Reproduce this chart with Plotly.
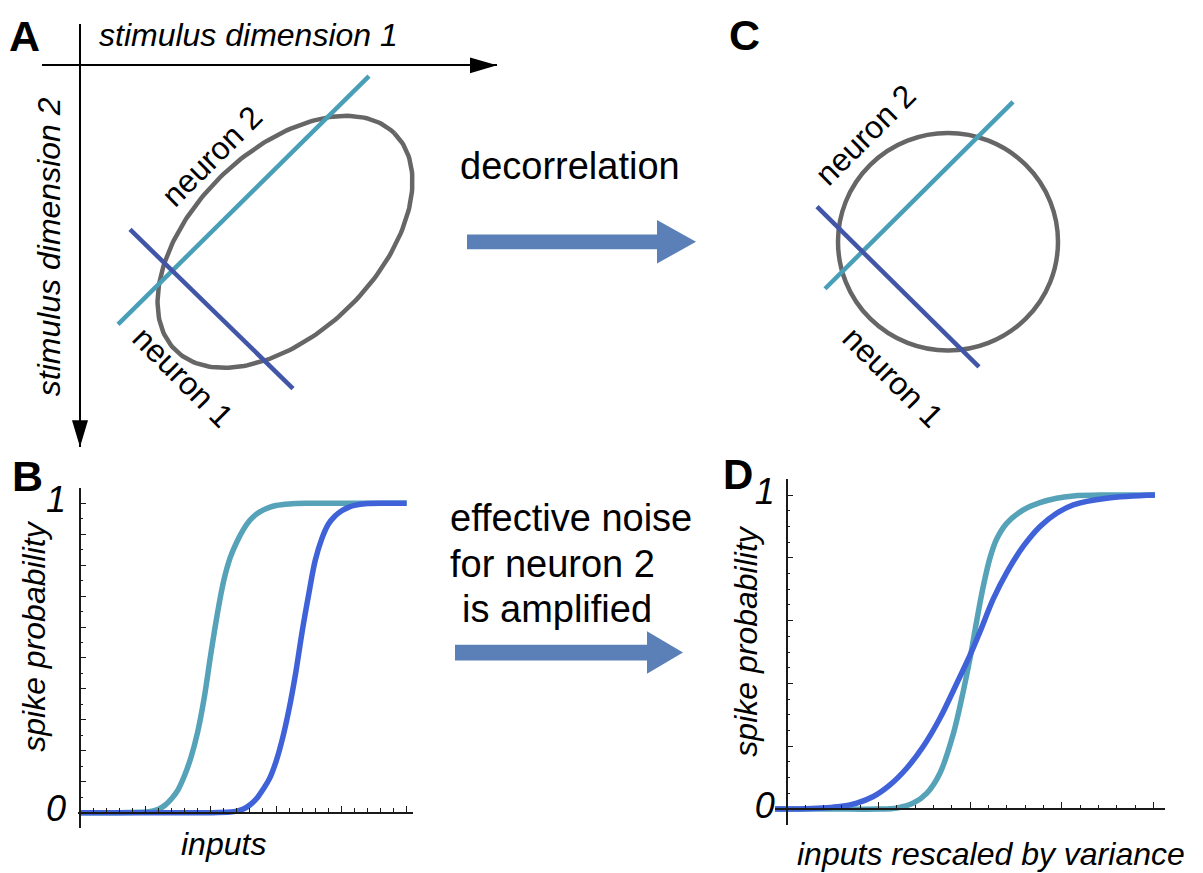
import numpy as np
import plotly.graph_objects as go

W, H = 1203, 873
FONT = "Liberation Sans, Arial, Helvetica, sans-serif"

# ---------------- data ----------------
# Panel A: correlated stimulus space (dimension 1 to the right, dimension 2 downward)
ellipse_A = {"cx": 2.05, "cy": 1.785, "a": 1.55, "b": 0.92, "angle_deg": 45}
neuron2_A_x = [0.38, 2.89]
neuron2_A_y = [2.62, 0.11]
neuron1_A_x = [0.50, 2.13]
neuron1_A_y = [1.66, 3.27]

# Panel C: decorrelated stimulus space
circle_C = {"cx": 0.0, "cy": 0.0, "r": 1.1}
neuron2_C_x = [-1.23, 0.65]
neuron2_C_y = [0.475, -1.415]
neuron1_C_x = [-1.31, 0.31]
neuron1_C_y = [-0.355, 1.265]

# Panel B: spike probability vs inputs
B_n2_x = [0, 0.5, 1.0, 1.1, 1.2, 1.3, 1.4, 1.5, 1.6, 1.7, 1.8, 1.9, 2.0, 2.1, 2.2, 2.3, 2.4, 2.5,
          2.6, 2.7, 2.8, 2.9, 3.0, 3.2, 3.5, 4.0, 4.5, 5.0]
B_n2_y = [0, 0, 0.002, 0.005, 0.011, 0.024, 0.045, 0.074, 0.12, 0.18, 0.26, 0.37, 0.51, 0.64, 0.75,
          0.825, 0.875, 0.915, 0.945, 0.965, 0.978, 0.987, 0.993, 0.998, 1.0, 1.0, 1.0, 1.0]
B_n1_x = [0, 1.0, 2.0, 2.3, 2.4, 2.5, 2.6, 2.7, 2.8, 2.9, 3.0, 3.1, 3.2, 3.3, 3.4, 3.5, 3.6, 3.7,
          3.8, 3.9, 4.0, 4.1, 4.2, 4.4, 4.7, 5.0]
B_n1_y = [0, 0, 0, 0.002, 0.005, 0.012, 0.025, 0.045, 0.075, 0.11, 0.165, 0.24, 0.335, 0.45, 0.585,
          0.705, 0.815, 0.885, 0.932, 0.958, 0.975, 0.986, 0.993, 0.999, 1.0, 1.0]

# Panel D: spike probability vs inputs rescaled by variance
D_n2_x = [-0.127, 0.5, 1.0, 1.2, 1.382, 1.527, 1.673, 1.818, 1.927, 2.0, 2.073, 2.145, 2.218, 2.291,
          2.4, 2.582, 2.764, 2.945, 3.127, 3.49, 4.018]
D_n2_y = [0, 0, 0, 0.003, 0.019, 0.05, 0.115, 0.24, 0.376, 0.48, 0.6, 0.71, 0.80, 0.86,
          0.91, 0.953, 0.976, 0.99, 0.997, 1.0, 1.0]
D_n1_x = [-0.127, 0.2, 0.582, 0.764, 0.945, 1.127, 1.309, 1.491, 1.673, 1.855, 2.0, 2.109, 2.255,
          2.4, 2.582, 2.764, 2.945, 3.127, 3.491, 4.018]
D_n1_y = [0, 0.001, 0.008, 0.019, 0.04, 0.077, 0.13, 0.2, 0.29, 0.4, 0.49, 0.565, 0.67,
          0.753, 0.837, 0.9, 0.942, 0.969, 0.99, 1.0]

y_ticktext_B = ["0", "", "", "", "", "", "", "", "", "", "1"]
y_ticktext_D = ["0", "", "", "", "", "1"]

# ---------------- styles ----------------
CYAN_LINE = "#4a9fb8"
BLUE_LINE = "#4256a8"
CYAN_CURVE = "#55a2b9"
BLUE_CURVE = "#3f62d8"
GREY = "#666666"
ARROW_FILL = "#5b80b8"


def PX(x):
    return x / W


def PY(y):
    return 1 - y / H


fig = go.Figure()

# ---- Panel A ----
th = np.deg2rad(ellipse_A["angle_deg"])
t = np.linspace(0, 2 * np.pi, 241)
ux, uy = np.cos(th), -np.sin(th)
vx, vy = np.sin(th), np.cos(th)
ex = ellipse_A["cx"] + ellipse_A["a"] * np.cos(t) * ux + ellipse_A["b"] * np.sin(t) * vx
ey = ellipse_A["cy"] + ellipse_A["a"] * np.cos(t) * uy + ellipse_A["b"] * np.sin(t) * vy
fig.add_trace(go.Scatter(x=ex, y=ey, mode="lines", line=dict(color=GREY, width=4.5),
                         xaxis="x", yaxis="y", hoverinfo="skip", showlegend=False))
fig.add_trace(go.Scatter(x=neuron2_A_x, y=neuron2_A_y, mode="lines", line=dict(color=CYAN_LINE, width=4.5),
                         xaxis="x", yaxis="y", showlegend=False))
fig.add_trace(go.Scatter(x=neuron1_A_x, y=neuron1_A_y, mode="lines", line=dict(color=BLUE_LINE, width=4.5),
                         xaxis="x", yaxis="y", showlegend=False))

# ---- Panel C ----
fig.add_trace(go.Scatter(x=neuron2_C_x, y=neuron2_C_y, mode="lines", line=dict(color=CYAN_LINE, width=4.5),
                         xaxis="x2", yaxis="y2", showlegend=False))
fig.add_trace(go.Scatter(x=neuron1_C_x, y=neuron1_C_y, mode="lines", line=dict(color=BLUE_LINE, width=4.5),
                         xaxis="x2", yaxis="y2", showlegend=False))

# ---- Panel B ----
curve = dict(width=5.5, shape="spline", smoothing=1.0)
fig.add_trace(go.Scatter(x=B_n2_x, y=B_n2_y, mode="lines", line=dict(color=CYAN_CURVE, **curve),
                         xaxis="x3", yaxis="y3", showlegend=False))
fig.add_trace(go.Scatter(x=B_n1_x, y=B_n1_y, mode="lines", line=dict(color=BLUE_CURVE, **curve),
                         xaxis="x3", yaxis="y3", showlegend=False))

# ---- Panel D ----
fig.add_trace(go.Scatter(x=D_n2_x, y=D_n2_y, mode="lines", line=dict(color=CYAN_CURVE, **curve),
                         xaxis="x4", yaxis="y4", showlegend=False))
fig.add_trace(go.Scatter(x=D_n1_x, y=D_n1_y, mode="lines", line=dict(color=BLUE_CURVE, **curve),
                         xaxis="x4", yaxis="y4", showlegend=False))

hidden = dict(visible=False, showgrid=False, zeroline=False)
tickfont = dict(family=FONT, size=36, color="black", style="italic")
AX = "#1a1a1a"

layout_axes = dict(
    # panel A stimulus axes
    xaxis=dict(domain=[PX(42), PX(497)], range=[-0.38, 4.17], anchor="free", position=PY(57),
               showline=True, linecolor="black", linewidth=2, ticks="", showticklabels=False,
               showgrid=False, zeroline=False, fixedrange=True),
    yaxis=dict(domain=[PY(443), PY(15)], range=[3.86, -0.42], anchor="free", position=PX(80),
               showline=True, linecolor="black", linewidth=2, ticks="", showticklabels=False,
               showgrid=False, zeroline=False, fixedrange=True),
    # panel C (no visible axes)
    xaxis2=dict(domain=[PX(720), PX(1100)], range=[-2.28, 1.52], anchor="y2", **hidden),
    yaxis2=dict(domain=[PY(420), PY(60)], range=[1.845, -1.755], anchor="x2", **hidden),
    # panel B
    xaxis3=dict(domain=[PX(78), PX(413)], range=[-0.031, 5.097], anchor="free", position=PY(813),
                showline=True, linecolor=AX, linewidth=1.6, ticks="inside", tickmode="linear",
                tick0=0, dtick=1, ticklen=6, tickwidth=1.3, tickcolor=AX,
                minor=dict(ticks="inside", tickmode="linear", tick0=0, dtick=0.2, ticklen=3.5, tickwidth=1.1, tickcolor=AX),
                showticklabels=False, showgrid=False, zeroline=False, layer="above traces"),
    yaxis3=dict(domain=[PY(828.65), PY(484.35)], range=[-0.05, 1.05], anchor="free", position=PX(80),
                showline=True, linecolor=AX, linewidth=1.6, ticks="inside", tickmode="array",
                tickvals=[round(0.1 * i, 1) for i in range(11)], ticktext=y_ticktext_B,
                ticklen=5, tickwidth=1.3, tickcolor=AX,
                minor=dict(ticks="inside", tickmode="linear", tick0=0, dtick=0.05, ticklen=2.5, tickwidth=1, tickcolor=AX),
                tickfont=tickfont, ticklabelstandoff=6, ticklabelshift=-4,
                showgrid=False, zeroline=False, layer="above traces"),
    # panel D
    xaxis4=dict(domain=[PX(775), PX(1165)], range=[-0.1277, 4.1273], anchor="free", position=PY(809.3),
                showline=True, linecolor=AX, linewidth=1.6, ticks="inside", tickmode="linear",
                tick0=0, dtick=1, ticklen=6, tickwidth=1.3, tickcolor=AX,
                minor=dict(ticks="inside", tickmode="linear", tick0=0, dtick=0.2, ticklen=3.5, tickwidth=1.1, tickcolor=AX),
                showticklabels=False, showgrid=False, zeroline=False, layer="above traces"),
    yaxis4=dict(domain=[PY(825.2), PY(475.8)], range=[-0.05, 1.05], anchor="free", position=PX(786.7),
                showline=True, linecolor=AX, linewidth=1.6, ticks="inside", tickmode="array",
                tickvals=[round(0.2 * i, 1) for i in range(6)], ticktext=y_ticktext_D,
                ticklen=5, tickwidth=1.3, tickcolor=AX,
                minor=dict(ticks="inside", tickmode="linear", tick0=0, dtick=0.05, ticklen=2.5, tickwidth=1, tickcolor=AX),
                tickfont=tickfont, ticklabelstandoff=4, ticklabelshift=-4,
                showgrid=False, zeroline=False, layer="above traces"),
)

shapes = []
# arrowheads of the stimulus axes in panel A (data coordinates of panel A)
xr = layout_axes["xaxis"]["range"]
yr = layout_axes["yaxis"]["range"]
hl, hw = 0.27, 0.08
shapes.append(dict(type="path", xref="x", yref="y", fillcolor="black", line=dict(width=0),
                   path=f"M {xr[1]-hl},{-hw} L {xr[1]},0 L {xr[1]-hl},{hw} Z"))
shapes.append(dict(type="path", xref="x", yref="y", fillcolor="black", line=dict(width=0),
                   path=f"M {-hw},{yr[0]-hl} L 0,{yr[0]} L {hw},{yr[0]-hl} Z"))
# circle in panel C
shapes.append(dict(type="circle", xref="x2", yref="y2", layer="below",
                   x0=circle_C["cx"] - circle_C["r"], x1=circle_C["cx"] + circle_C["r"],
                   y0=circle_C["cy"] - circle_C["r"], y1=circle_C["cy"] + circle_C["r"],
                   line=dict(color=GREY, width=4.5)))


def block_arrow(x0, x1, yc, thick, head_len, head_half):
    xb = x1 - head_len
    pts = [(x0, yc - thick / 2), (xb, yc - thick / 2), (xb, yc - head_half), (x1, yc),
           (xb, yc + head_half), (xb, yc + thick / 2), (x0, yc + thick / 2)]
    p = "M " + " L ".join(f"{PX(a):.5f},{PY(b):.5f}" for a, b in pts) + " Z"
    return dict(type="path", xref="paper", yref="paper", path=p, fillcolor=ARROW_FILL, line=dict(width=0))


shapes.append(block_arrow(467, 696, 235.5, 15, 39, 22))
shapes.append(block_arrow(455, 683, 651, 16, 36, 21.5))

ann = []


def text(s, x, y, size=32, italic=False, bold=False, angle=0, xanchor="center"):
    f = dict(family=FONT, size=size, color="black")
    if italic:
        f["style"] = "italic"
    if bold:
        f["weight"] = 700
    ann.append(dict(text=s, x=PX(x), y=PY(y), xref="paper", yref="paper", showarrow=False,
                    font=f, textangle=angle, xanchor=xanchor, yanchor="middle"))


# panel letters
text("A", 24, 27, size=43, bold=True)
text("B", 27, 472, size=43, bold=True)
text("C", 744, 26, size=43, bold=True)
text("D", 738, 471, size=42, bold=True)
# panel A/C labels
text("stimulus dimension 1", 249, 26, italic=True)
text("stimulus dimension 2", 49, 241, italic=True, angle=-90)
text("neuron 2", 212, 149, angle=-45)
text("neuron 1", 183, 372, angle=45)
text("neuron 2", 865, 127, angle=-45)
text("neuron 1", 893, 372, angle=45)
# middle texts
text("decorrelation", 570, 159, size=38)
text("effective noise", 448, 515, size=38, xanchor="left")
text("for neuron 2", 448, 561, size=38, xanchor="left")
text("is amplified", 460, 607, size=38, xanchor="left")
# panel B/D axis titles
text("spike probability", 34, 635, italic=True, angle=-90)
text("inputs", 223, 845, italic=True)
text("spike probability", 746, 640, italic=True, angle=-90)
text("inputs rescaled by variance", 991, 855, italic=True)

fig.update_layout(
    width=W, height=H, margin=dict(l=0, r=0, t=0, b=0),
    paper_bgcolor="white", plot_bgcolor="white",
    showlegend=False, shapes=shapes, annotations=ann,
    font=dict(family=FONT),
    **layout_axes,
)

fig.write_html("out.html", config={"displayModeBar": False})
